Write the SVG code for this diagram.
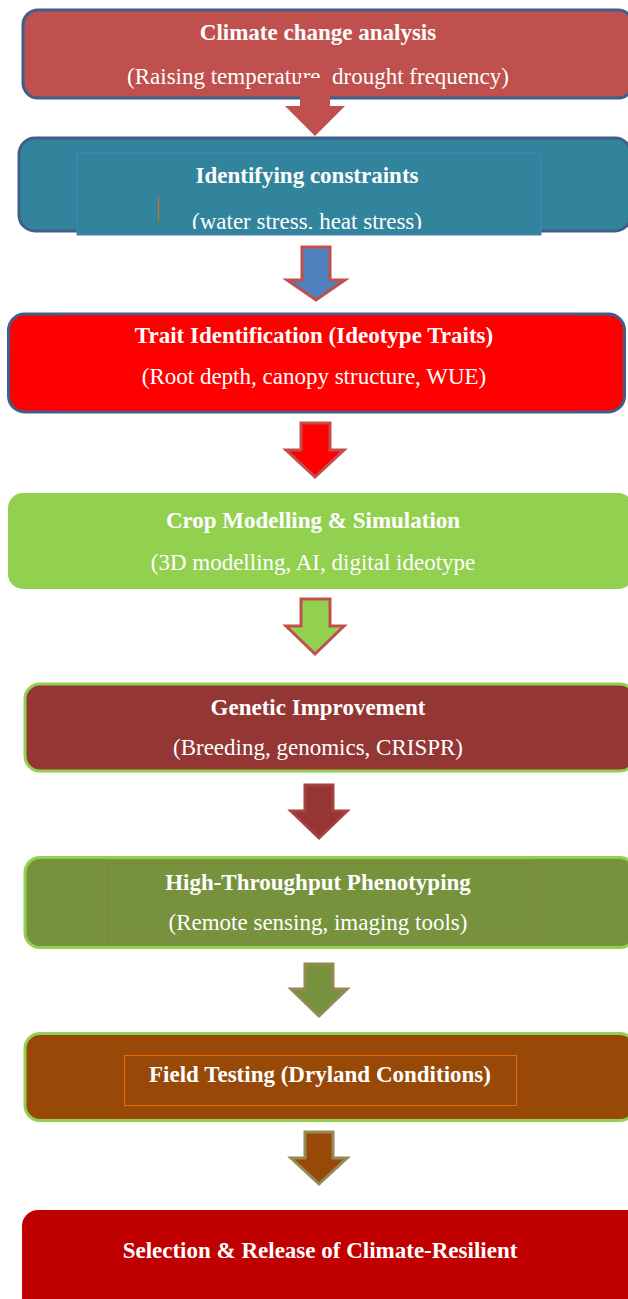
<svg xmlns="http://www.w3.org/2000/svg" width="628" height="1299" viewBox="0 0 628 1299">
  <defs>
    <style>
      .title { font-family: "Liberation Serif", "Times New Roman", serif; font-weight: bold; font-size: 23px; fill: #ffffff; text-anchor: middle; }
      .sub { font-family: "Liberation Serif", "Times New Roman", serif; font-size: 23px; fill: #ffffff; text-anchor: middle; }
      .arrow { stroke-width: 3; stroke-linejoin: miter; }
    </style>
    <clipPath id="clip-constraints">
      <rect x="77" y="153" width="464" height="76"/>
    </clipPath>
  </defs>
  <rect width="628" height="1299" fill="#ffffff"/>

  <g id="climate-analysis">
    <rect x="23" y="10" width="610" height="88" rx="15" fill="#c0504d" stroke="#3e5e8c" stroke-width="3"/>
    <rect x="80" y="12" width="476" height="84" fill="#c0504d"/>
    <text class="title" x="318" y="40">Climate change analysis</text>
    <text class="sub" x="318" y="84">(Raising temperature, drought frequency)</text>
  </g>

  <g id="identifying-constraints">
    <rect x="19" y="138" width="612" height="93" rx="16" fill="#31849b" stroke="#3e5e8c" stroke-width="3"/>
    <rect x="77" y="153" width="464" height="82" fill="#31849b" stroke="#4f81bd" stroke-width="1"/>
    <line x1="158.5" y1="197" x2="158.5" y2="222" stroke="#e36c09" stroke-width="1"/>
    <text class="title" x="307" y="183">Identifying constraints</text>
    <g clip-path="url(#clip-constraints)">
      <text class="sub" x="307" y="229">(water stress, heat stress)</text>
    </g>
  </g>

  <g id="trait-identification">
    <rect x="8.5" y="314" width="616" height="98" rx="16" fill="#ff0000" stroke="#3e5e8c" stroke-width="3"/>
    <rect x="53" y="315.5" width="522" height="95" fill="#ff0000"/>
    <text class="title" x="314" y="343">Trait Identification (Ideotype Traits)</text>
    <text class="sub" x="314" y="384">(Root depth, canopy structure, WUE)</text>
  </g>

  <g id="crop-modelling">
    <rect x="8" y="493" width="625" height="96" rx="15" fill="#92d050"/>
    <text class="title" x="313" y="528">Crop Modelling &amp; Simulation</text>
    <text class="sub" x="313" y="570">(3D modelling, AI, digital ideotype</text>
  </g>

  <g id="genetic-improvement">
    <rect x="25" y="684" width="610" height="87" rx="15" fill="#943634" stroke="#92d050" stroke-width="3"/>
    <text class="title" x="318" y="715">Genetic Improvement</text>
    <text class="sub" x="318" y="755">(Breeding, genomics, CRISPR)</text>
  </g>

  <g id="phenotyping">
    <rect x="25" y="857.5" width="610" height="90" rx="15" fill="#76923c" stroke="#92d050" stroke-width="3"/>
    <rect x="108" y="863.5" width="423" height="80" fill="none" stroke="#8a7d4e" stroke-width="0.8"/>
    <text class="title" x="318" y="890">High-Throughput Phenotyping</text>
    <text class="sub" x="318" y="930">(Remote sensing, imaging tools)</text>
  </g>

  <g id="field-testing">
    <rect x="25" y="1033.5" width="610" height="87" rx="15" fill="#984807" stroke="#92d050" stroke-width="3"/>
    <rect x="124.5" y="1055.5" width="392" height="50" fill="none" stroke="#e36c09" stroke-width="1"/>
    <text class="title" x="320" y="1082">Field Testing (Dryland Conditions)</text>
  </g>

  <g id="selection-release">
    <rect x="22" y="1210" width="620" height="110" rx="16" fill="#c00000"/>
    <text class="title" x="320" y="1258">Selection &amp; Release of Climate-Resilient</text>
  </g>

  <g id="connectors">
    <polygon points="300,78 330,78 330,106 345,106 315,136 285,106 300,106" fill="#c0504d"/>
    <polygon class="arrow" points="302,247 330,247 330,280 345,280 316,300 287,280 302,280" fill="#4f81bd" stroke="#c0504d"/>
    <polygon class="arrow" points="301,423 330,423 330,450 344,450 315,477 286,450 301,450" fill="#ff0000" stroke="#c0504d"/>
    <polygon class="arrow" points="301,599 330,599 330,626 344,626 315,654 286,626 301,626" fill="#92d050" stroke="#c0504d"/>
    <polygon class="arrow" points="305,785 333,785 333,811 347,811 319,838 291,811 305,811" fill="#943634" stroke="#a8403d"/>
    <polygon class="arrow" points="305,964 333,964 333,989 347,989 319,1016 291,989 305,989" fill="#76923c" stroke="#948a54"/>
    <polygon class="arrow" points="305,1132 333,1132 333,1158 347,1158 319,1184 291,1158 305,1158" fill="#984807" stroke="#948a54"/>
  </g>
</svg>
